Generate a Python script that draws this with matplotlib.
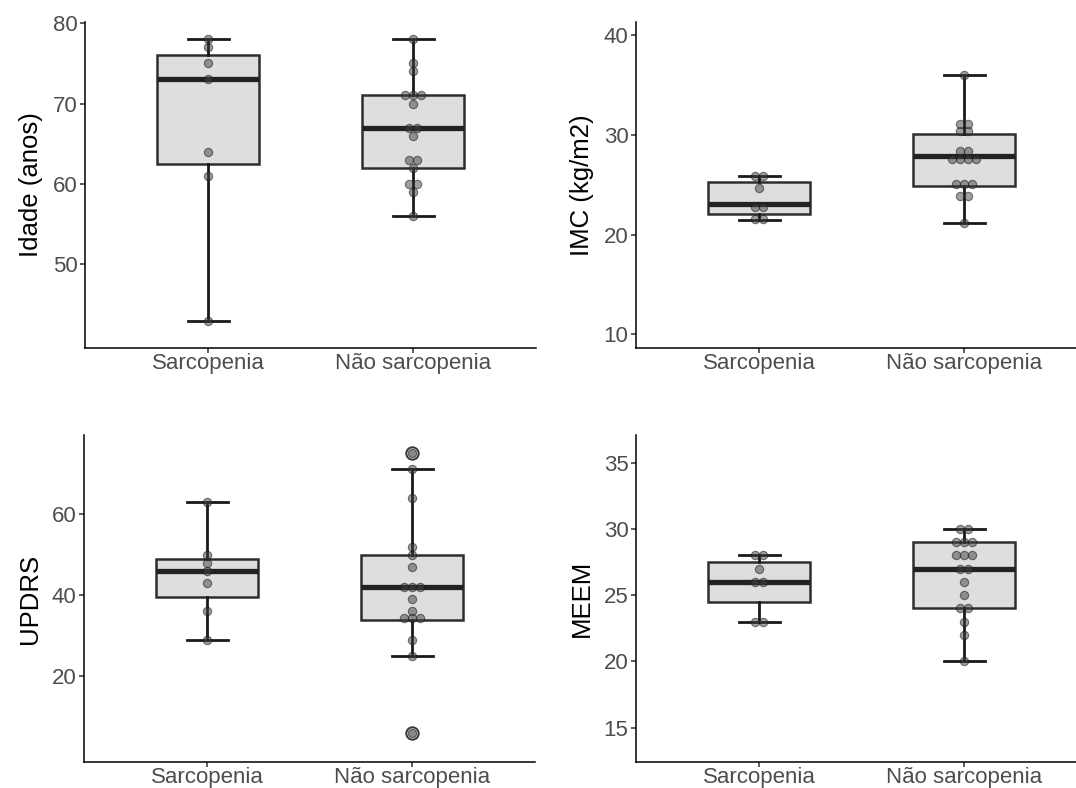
import numpy as np
import matplotlib
matplotlib.use('Agg')
import matplotlib.pyplot as plt

plt.rcParams['font.family'] = ['Liberation Sans', 'DejaVu Sans']

# %% dados
grupos = ['Sarcopenia', 'Não sarcopenia']

idade_sarc = [43, 61, 64, 73, 75, 77, 78]
idade_nao = [56, 59, 60, 60, 62, 63, 63, 66, 67, 67, 70, 71, 71, 71, 74, 75, 78]

imc_sarc = [21.5, 21.7, 22.4, 23.1, 24.7, 25.8, 25.9]
imc_nao = [21.2, 23.7, 24.1, 24.8, 24.9, 25.3, 27.3, 27.5, 27.9, 27.9,
           28.2, 28.6, 30.1, 30.7, 30.9, 31.3, 36.0]

updrs_sarc = [29, 36, 43, 46, 48, 50, 63]
updrs_nao = [6, 25, 29, 34, 34, 35, 36, 39, 42, 42, 42, 47, 50, 52, 64, 71, 75]

meem_sarc = [23, 23, 26, 26, 27, 28, 28]
meem_nao = [20, 22, 23, 24, 24, 25, 26, 27, 27, 28, 28, 28, 29, 29, 29, 30, 30]


# %% dotplot tipo ggplot (dotdensity)
def dot_bins(vals, bw):
    vals = np.sort(np.asarray(vals, dtype=float))
    bins = []
    fim = -np.inf
    for v in vals:
        if v >= fim:
            bins.append([v])
            fim = v + bw
        else:
            bins[-1].append(v)
    return [((min(b) + max(b)) / 2, len(b)) for b in bins]


def painel(ax, sarc, nao, ylabel, yticks, ylim, bw):
    ax.boxplot([sarc, nao], positions=[1, 2], widths=0.5, whis=1.5,
               patch_artist=True, capwidths=0.2,
               boxprops=dict(facecolor='#DEDEDE', edgecolor='#2e2e2e', linewidth=1.8),
               medianprops=dict(color='#222222', linewidth=3.8),
               whiskerprops=dict(color='#1a1a1a', linewidth=2.0),
               capprops=dict(color='#1a1a1a', linewidth=2.0),
               flierprops=dict(marker='o', markersize=9, markerfacecolor='#cfcfcf',
                               markeredgecolor='#333333', markeredgewidth=1.3))
    passo = 0.0405
    for pos, vals in zip([1, 2], [sarc, nao]):
        xs, ys = [], []
        for c, n in dot_bins(vals, bw):
            for i in range(n):
                xs.append(pos + (i - (n - 1) / 2) * passo)
                ys.append(c)
        ax.scatter(xs, ys, s=36, facecolor=(0.25, 0.25, 0.25, 0.5),
                   edgecolor=(0.1, 0.1, 0.1, 0.55), linewidth=0.8, zorder=5)
    ax.set_xlim(0.4, 2.6)
    ax.set_ylim(*ylim)
    ax.set_xticks([1, 2])
    ax.set_xticklabels(grupos)
    ax.set_yticks(yticks)
    ax.set_ylabel(ylabel, fontsize=18.5, color='black', labelpad=7)
    for s in ['top', 'right']:
        ax.spines[s].set_visible(False)
    for s in ['left', 'bottom']:
        ax.spines[s].set_linewidth(1.1)
        ax.spines[s].set_color('black')
    ax.tick_params(direction='out', length=3.5, width=1.1, color='#333333',
                   labelcolor='#4D4D4D', labelsize=16, pad=2)
    ax.tick_params(axis='x', pad=0)


fig = plt.figure(figsize=(10.76, 7.88), dpi=100)
W, H = 1076, 788


def eixo(x0, y0, x1, y1):
    return fig.add_axes([x0 / W, 1 - y1 / H, (x1 - x0) / W, (y1 - y0) / H])


ax1 = eixo(85, 21.5, 536, 348)
ax2 = eixo(636, 21.5, 1087, 348)
ax3 = eixo(84, 435, 535, 762)
ax4 = eixo(636, 435, 1087, 762)

painel(ax1, idade_sarc, idade_nao, 'Idade (anos)', [50, 60, 70, 80], (39.6, 80.2), 1)
painel(ax2, imc_sarc, imc_nao, 'IMC (kg/m2)', [10, 20, 30, 40], (8.6, 41.4), 0.75)
painel(ax3, updrs_sarc, updrs_nao, 'UPDRS', [20, 40, 60], (-1.1, 79.5), 2)
painel(ax4, meem_sarc, meem_nao, 'MEEM', [15, 20, 25, 30, 35], (12.4, 37.1), 1)

fig.savefig('out.png', dpi=100)
